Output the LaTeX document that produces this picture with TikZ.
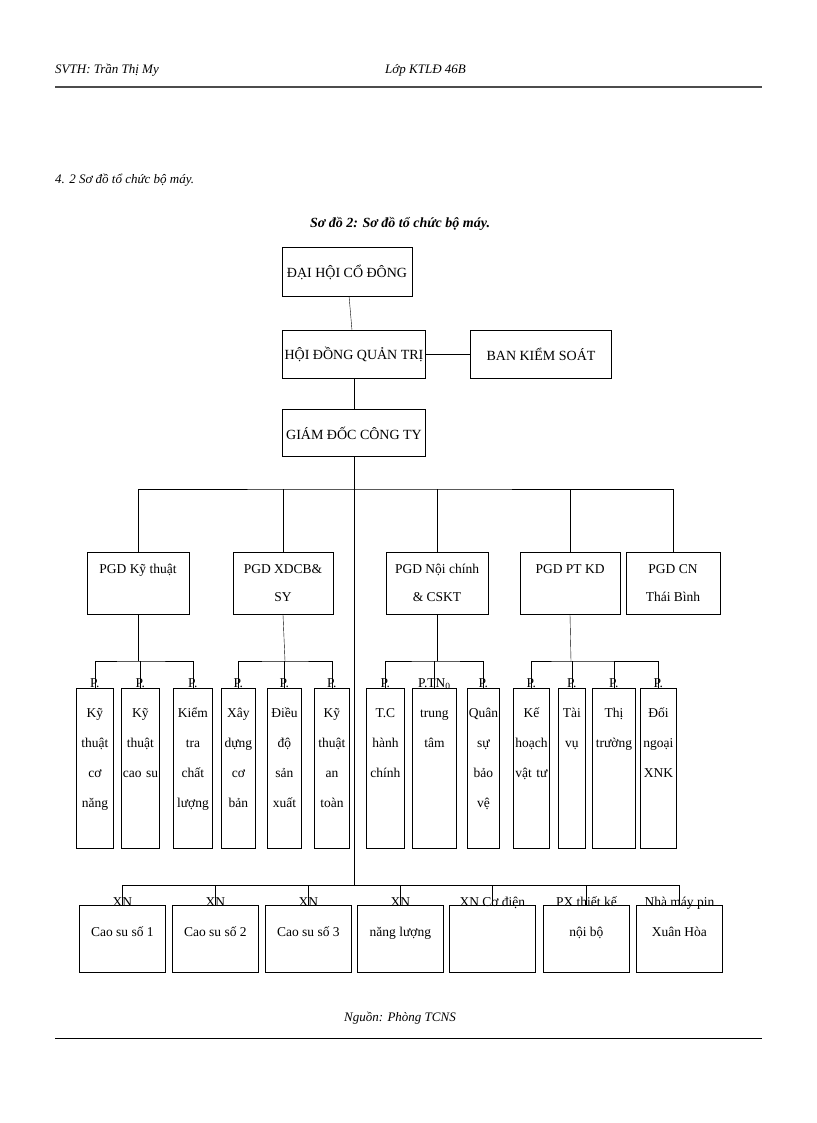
\documentclass[tikz,border=0pt]{standalone}
\usepackage{fontspec}
\setmainfont{Liberation Serif}
\usetikzlibrary{positioning}

\begin{document}
\begin{tikzpicture}[
  x=1pt, y=-1pt,
  box/.style={draw, thick, inner sep=0pt, align=center, font=\fontsize{14}{30}\selectfont},
  txt/.style={inner sep=0pt, align=center, anchor=north, font=\fontsize{13.5}{30}\selectfont},
  line/.style={thin}
]
\useasboundingbox (0,0) rectangle (816,1123);

% Header and footer
\node[inner sep=0pt, anchor=west, font=\itshape\fontsize{13}{15}\selectfont] (hl) at (55,70) {SVTH: Trần Thị My};
\node[inner sep=0pt, anchor=west, font=\itshape\fontsize{13}{15}\selectfont] (hr) at (385,70) {Lớp KTLĐ 46B};
\draw[line width=1.5pt, gray!60!black] (55,87) -- (762,87);
\node[inner sep=0pt, anchor=west, font=\itshape\fontsize{13}{15}\selectfont] (sec) at (55,180) {4. 2 Sơ đồ tổ chức bộ máy.};
\node[inner sep=0pt, font=\bfseries\itshape\fontsize{14}{16}\selectfont] (cap) at (400,224) {Sơ đồ 2: Sơ đồ tổ chức bộ máy.};
\node[inner sep=0pt, font=\itshape\fontsize{13}{15}\selectfont] (src) at (400,1018) {Nguồn: Phòng TCNS};
\draw[thick] (55,1038) -- (762,1038);

% Top levels
\node[box, minimum width=130, minimum height=49] (dh) at (347,272) {ĐẠI HỘI CỔ ĐÔNG};
\node[box, minimum width=143, minimum height=48] (hd) at (354,354) {HỘI ĐỒNG QUẢN TRỊ};
\node[box, minimum width=141, minimum height=48] (bk) at (541,354) {BAN KIỂM SOÁT};
\node[box, minimum width=143, minimum height=47] (gd) at (354,433) {GIÁM ĐỐC CÔNG TY};
\draw[line] (dh) -- (hd);
\draw[line] (hd) -- (bk);
\draw[line] (hd) -- (gd);

% Deputy directors
\node[box, minimum width=102, minimum height=62, anchor=north] (p1) at (138,552) {};
\node[box, minimum width=100, minimum height=62, anchor=north] (p2) at (283,552) {};
\node[box, minimum width=102, minimum height=62, anchor=north] (p3) at (437,552) {};
\node[box, minimum width=100, minimum height=62, anchor=north] (p4) at (570,552) {};
\node[box, minimum width=94, minimum height=62, anchor=north] (p5) at (673,552) {};
\node[txt] (p1t) at (138,564) {PGD Kỹ thuật};
\node[txt] (p2t) at (283,564) {PGD XDCB\&\\[-2pt]SY};
\node[txt] (p3t) at (437,564) {PGD Nội chính\\[-2pt]\& CSKT};
\node[txt] (p4t) at (570,564) {PGD PT KD};
\node[txt] (p5t) at (673,564) {PGD CN\\[-2pt]Thái Bình};

\coordinate (bus1) at (354,489);
\draw[line] (gd.south) -- (bus1);
\draw[line] (p1.north) |- (bus1) -| (p5.north);
\foreach \p in {p2, p3, p4} \draw[line] (\p.north) -- (\p.north |- bus1);

% Departments (P.)
\foreach \n/\l/\r/\t in {
  c1/76/113/{P.\\Kỹ\\thuật\\cơ\\năng},
  c2/121/159/{P.\\Kỹ\\thuật\\cao su},
  c3/173/212/{P.\\Kiểm\\tra\\chất\\lượng},
  c4/221/255/{P.\\Xây\\dựng\\cơ\\bản},
  c5/267/301/{P.\\Điều\\độ\\sản\\xuất},
  c6/314/349/{P.\\Kỹ\\thuật\\an\\toàn},
  c7/366/404/{P.\\T.C\\hành\\chính},
  c8/412/456/{P.TN$_{\mathrm{0}}$\\trung\\tâm},
  c9/467/499/{P.\\Quân\\sự\\bảo\\vệ},
  c10/513/549/{P.\\Kế\\hoạch\\vật tư},
  c11/558/585/{P.\\Tài\\vụ},
  c12/592/635/{P.\\Thị\\trường},
  c13/640/676/{P.\\Đối\\ngoại\\XNK}} {
  \node[box, minimum width=\r-\l, minimum height=160, anchor=north west] (\n) at (\l,688) {};
  \node[txt, text width=\r-\l+6] (\n t) at ([yshift=10]\n.north) {\t};
}

% Department connectors
\coordinate (g1) at (138,661);
\coordinate (g2) at (285,661);
\coordinate (g3) at (437,661);
\coordinate (g4) at (571,661);
\draw[line] (p1.south) -- (g1);
\draw[line] (p2.south) -- (g2);
\draw[line] (p3.south) -- (g3);
\draw[line] (p4.south) -- (g4);
\draw[line] (c1.north) |- (g1) -| (c3.north);
\draw[line] (c2.north) -- (c2.north |- g1);
\draw[line] (c4.north) |- (g2) -| (c6.north);
\draw[line] (c5.north) -- (c5.north |- g2);
\draw[line] (c7.north) |- (g3) -| (c9.north);
\draw[line] (c8.north) -- (c8.north |- g3);
\draw[line] (c10.north) |- (g4) -| (c13.north);
\draw[line] (c11.north) -- (c11.north |- g4);
\draw[line] (c12.north) -- (c12.north |- g4);

% Enterprises
\foreach \n/\l/\t in {
  x1/79/{XN\\Cao su số 1},
  x2/172/{XN\\Cao su số 2},
  x3/265/{XN\\Cao su số 3},
  x4/357/{XN\\năng lượng},
  x5/449/{XN Cơ điện},
  x6/543/{PX thiết kế\\nội bộ},
  x7/636/{Nhà máy pin\\Xuân Hòa}} {
  \node[box, minimum width=86, minimum height=67, anchor=north west] (\n) at (\l,905) {};
  \node[txt] (\n t) at ([yshift=8]\n.north) {\t};
}
\coordinate (bus2) at (354,885);
\draw[line] (bus1) -- (bus2);
\draw[line] (x1.north) |- (bus2) -| (x7.north);
\foreach \x in {x2, x3, x4, x5, x6} \draw[line] (\x.north) -- (\x.north |- bus2);

\end{tikzpicture}
\end{document}
